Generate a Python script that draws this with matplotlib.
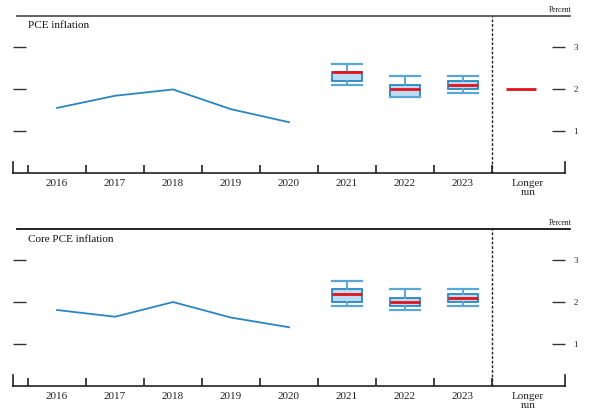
import matplotlib
matplotlib.use("Agg")
import matplotlib.pyplot as plt
from matplotlib.lines import Line2D

plt.rcParams['font.family'] = ['Liberation Serif', 'DejaVu Serif']

years = ['2016', '2017', '2018', '2019', '2020']
proj_years = ['2021', '2022', '2023']
xlabels = years + proj_years + ['Longer\nrun']

pce_hist = [1.55, 1.84, 1.99, 1.52, 1.21]
pce_med = [2.4, 2.0, 2.1]
pce_ct_lo = [2.2, 1.8, 2.0]
pce_ct_hi = [2.4, 2.1, 2.2]
pce_rng_lo = [2.1, 1.8, 1.9]
pce_rng_hi = [2.6, 2.3, 2.3]
pce_longer = 2.0

core_hist = [1.81, 1.65, 2.0, 1.63, 1.40]
core_med = [2.2, 2.0, 2.1]
core_ct_lo = [2.0, 1.9, 2.0]
core_ct_hi = [2.3, 2.1, 2.2]
core_rng_lo = [1.9, 1.8, 1.9]
core_rng_hi = [2.5, 2.3, 2.3]

W, H = 596, 419
fig = plt.figure(figsize=(W / 100, H / 100), dpi=100)

LINE_C = '#2a86bf'
BOX_FACE = '#bcdcf3'
BOX_EDGE = '#2b87c0'
CAP_C = '#5aa7d6'
MED_C = '#e3121b'


def panel(top_px, bottom_px, title, hist, med, lo, hi, rlo, rhi, longer, topline_c):
    ax = fig.add_axes([13 / W, 1 - bottom_px / H, (565 - 13) / W, (bottom_px - top_px) / H])
    ax.set_xlim(-0.76, 8.76)
    ax.set_ylim(0, 3.74)
    for s in ['top', 'left', 'right']:
        ax.spines[s].set_visible(False)
    ax.spines['bottom'].set_linewidth(1.2)
    ax.spines['bottom'].set_color('#222222')

    ax.plot(range(len(hist)), hist, color=LINE_C, lw=1.3)

    xs = [len(hist) + i for i in range(len(med))]
    stats = []
    for i in range(len(med)):
        stats.append(dict(med=med[i], q1=lo[i], q3=hi[i], whislo=rlo[i], whishi=rhi[i], fliers=[]))
    ax.bxp(stats, positions=xs, widths=0.52, capwidths=0.52, patch_artist=True,
           showfliers=False,
           boxprops=dict(facecolor=BOX_FACE, edgecolor=BOX_EDGE, lw=1.3),
           medianprops=dict(color=MED_C, lw=2.0),
           whiskerprops=dict(color=CAP_C, lw=1.4),
           capprops=dict(color=CAP_C, lw=1.6),
           manage_ticks=False)
    if longer is not None:
        ax.hlines(longer, 8 - 0.26, 8 + 0.26, color=MED_C, lw=2.0)

    # dashed separator
    ax.axvline(7.5, ymin=0, ymax=1, color='#222222', lw=1.0, ls=(0, (2, 1.3)), clip_on=False)

    # y ticks
    ax.set_yticks([1, 2, 3])
    ax.yaxis.set_ticks_position('both')
    ax.tick_params(axis='y', which='major', direction='in', length=9.5, width=1.0,
                   colors='#333333', labelleft=False, labelright=True, pad=6, labelsize=6.5)
    for t in ax.get_yticklabels():
        t.set_color('#222222')

    # x ticks: boundaries as major (marks), centers as minor (labels)
    ax.set_xticks([i - 0.5 for i in range(9)])
    ax.xaxis.set_major_formatter(plt.NullFormatter())
    ax.tick_params(axis='x', which='major', direction='in', length=5.5, width=1.2, colors='#222222')
    ax.set_xticks(list(range(8)) + [8.12], minor=True)
    ax.set_xticklabels(xlabels, minor=True, fontsize=8, linespacing=1.05)
    ax.tick_params(axis='x', which='minor', length=0, pad=4, colors='#222222')

    # end stubs
    for xa in (0, 1):
        ax.plot([xa, xa], [0, 11 / (bottom_px - top_px)], transform=ax.transAxes,
                color='#222222', lw=1.2, clip_on=False)

    # top rule
    fig.add_artist(Line2D([17 / W, 570 / W], [1 - top_px / H, 1 - top_px / H],
                          color=topline_c, lw=1.3))
    fig.text(28 / W, 1 - (top_px + 10) / H, title, fontsize=8, va='center', ha='left',
             color='#111111')
    fig.text(560 / W, 1 - (top_px - 6) / H, 'Percent', fontsize=5.5, va='center',
             ha='center', color='#111111')
    return ax


panel(16, 173, 'PCE inflation', pce_hist, pce_med, pce_ct_lo, pce_ct_hi,
      pce_rng_lo, pce_rng_hi, pce_longer, '#555555')
panel(229, 386, 'Core PCE inflation', core_hist, core_med, core_ct_lo, core_ct_hi,
      core_rng_lo, core_rng_hi, None, '#111111')

fig.savefig('out.png', dpi=100)
